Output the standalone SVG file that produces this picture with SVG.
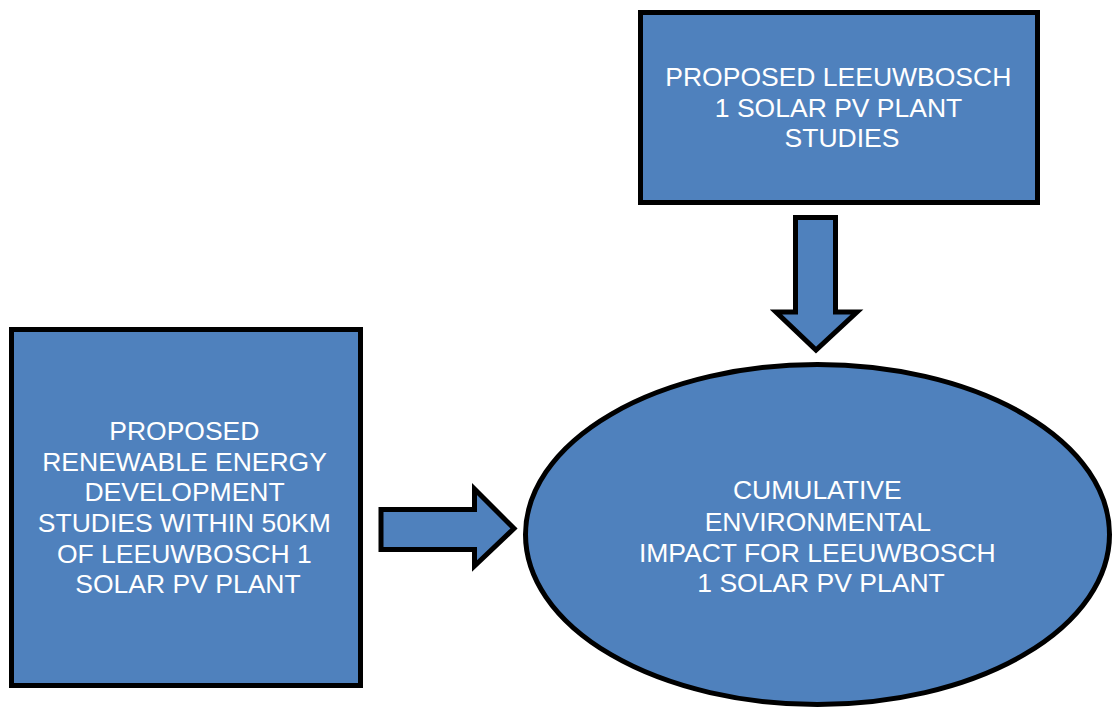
<svg xmlns="http://www.w3.org/2000/svg" width="1113" height="708" viewBox="0 0 1113 708">
  <style>
    .shape { fill: #4F81BD; stroke: #000000; stroke-width: 5; stroke-linejoin: miter; }
    .label { fill: #FFFFFF; font-family: "Liberation Sans", Arial, sans-serif; font-size: 26.5px; text-anchor: middle; }
  </style>
  <rect width="1113" height="708" fill="#FFFFFF"/>

  <!-- top study box -->
  <g id="node-leeuwbosch-studies">
    <rect class="shape" x="640.5" y="12.5" width="397" height="190"/>
    <text class="label">
      <tspan x="842" y="86">PROPOSED LEEUWBOSCH</tspan>
      <tspan x="842" y="116.5">1 SOLAR PV PLANT</tspan>
      <tspan x="842" y="147">STUDIES</tspan>
    </text>
  </g>

  <!-- left study box -->
  <g id="node-renewable-studies">
    <rect class="shape" x="11.5" y="329.5" width="349" height="356"/>
    <text class="label">
      <tspan x="188" y="440">PROPOSED</tspan>
      <tspan x="188" y="471">RENEWABLE ENERGY</tspan>
      <tspan x="188" y="501">DEVELOPMENT</tspan>
      <tspan x="188" y="532">STUDIES WITHIN 50KM</tspan>
      <tspan x="188" y="563">OF LEEUWBOSCH 1</tspan>
      <tspan x="188" y="593">SOLAR PV PLANT</tspan>
    </text>
  </g>

  <!-- cumulative impact ellipse -->
  <g id="node-cumulative-impact">
    <ellipse class="shape" cx="817.5" cy="534.5" rx="292" ry="170"/>
    <text class="label">
      <tspan x="821" y="499">CUMULATIVE</tspan>
      <tspan x="821" y="531">ENVIRONMENTAL</tspan>
      <tspan x="821" y="562">IMPACT FOR LEEUWBOSCH</tspan>
      <tspan x="821" y="592">1 SOLAR PV PLANT</tspan>
    </text>
  </g>

  <!-- block arrows -->
  <g id="connectors">
    <path class="shape" d="M795.5,217.5 H835.5 V312 H857 L816,350 L776,312 H795.5 Z"/>
    <path class="shape" d="M381,509.5 H474.5 V489 L514,528.5 L474.5,566 V549.5 H381 Z"/>
  </g>
</svg>
